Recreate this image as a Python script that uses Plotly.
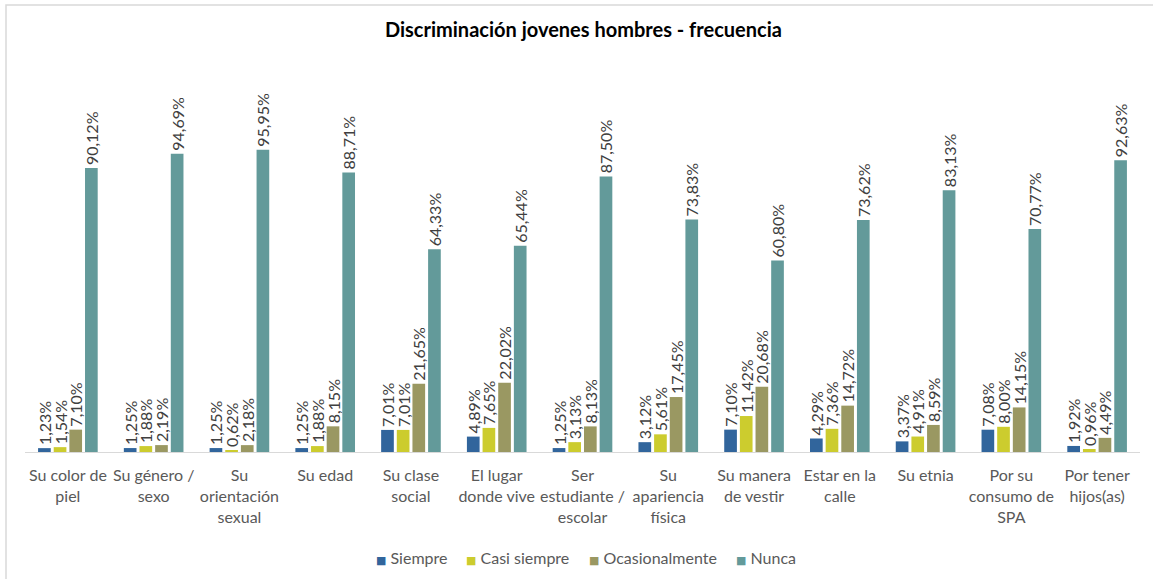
import plotly.graph_objects as go

categories = ["Su color de<br>piel", "Su género /<br>sexo", "Su<br>orientación<br>sexual", "Su edad",
              "Su clase<br>social", "El lugar<br>donde vive", "Ser<br>estudiante /<br>escolar",
              "Su<br>apariencia<br>física", "Su manera<br>de vestir", "Estar en la<br>calle",
              "Su etnia", "Por su<br>consumo de<br>SPA", "Por tener<br>hijos(as)"]

siempre = [1.23, 1.25, 1.25, 1.25, 7.01, 4.89, 1.25, 3.12, 7.10, 4.29, 3.37, 7.08, 1.92]
casi_siempre = [1.54, 1.88, 0.62, 1.88, 7.01, 7.65, 3.13, 5.61, 11.42, 7.36, 4.91, 8.00, 0.96]
ocasionalmente = [7.10, 2.19, 2.18, 8.15, 21.65, 22.02, 8.13, 17.45, 20.68, 14.72, 8.59, 14.15, 4.49]
nunca = [90.12, 94.69, 95.95, 88.71, 64.33, 65.44, 87.50, 73.83, 60.80, 73.62, 83.13, 70.77, 92.63]

series_names = ["Siempre", "Casi siempre", "Ocasionalmente", "Nunca"]
series_values = [siempre, casi_siempre, ocasionalmente, nunca]
series_colors = ["#31659C", "#CCCC2E", "#9A9862", "#639A9A"]

FONT = "Lato"
L, R, T, B = 25, 13, 137, 127
PW, PH = 1153 - L - R, 579 - T - B

fig = go.Figure()
for name, vals, color in zip(series_names, series_values, series_colors):
    fig.add_trace(go.Bar(
        name=name, x=categories, y=vals,
        marker=dict(color=color, line=dict(width=0)),
        text=[f"{v:.2f}%".replace(".", ",") for v in vals],
        textposition="outside", textangle=-90,
        textfont=dict(family=FONT, size=16, color="#404040"),
        cliponaxis=False, constraintext="none",
        showlegend=False,
    ))

# legend drawn as annotations (Excel-style small square swatches)
legend_px = [374, 464, 587, 734]
annotations = []
for name, color, px in zip(series_names, series_colors, legend_px):
    annotations.append(dict(
        xref="paper", yref="paper", x=(px - L) / PW, y=(452 - 557) / PH,
        xanchor="left", yanchor="middle", showarrow=False,
        text=f"<span style='font-size:11px;color:{color};font-family:DejaVu Sans'>■</span>&nbsp;{name}",
        font=dict(family=FONT, size=16, color="#595959"),
    ))

fig.update_layout(
    width=1153, height=579,
    paper_bgcolor="white", plot_bgcolor="white",
    margin=dict(l=L, r=R, t=T, b=B),
    barmode="group", bargap=0.27, bargroupgap=0.19,
    font=dict(family=FONT, size=16, color="#595959"),
    title=dict(text="<b>Discriminación jovenes hombres - frecuencia</b>",
               x=0.506, xanchor="center", y=0.948, yanchor="middle",
               font=dict(family=FONT, size=20, color="#000000")),
    showlegend=False,
    annotations=annotations,
    xaxis=dict(showline=True, linecolor="#D9D9D9", linewidth=1, ticks="",
               tickfont=dict(family=FONT, size=16, color="#595959"),
               ticklabelstandoff=9, range=[-0.5, 12.5],
               showgrid=False, zeroline=False, automargin=False),
    yaxis=dict(range=[0, 100], visible=False, showgrid=False, zeroline=False, automargin=False),
    shapes=[dict(type="rect", xref="paper", yref="paper",
                 x0=(6 - L) / PW, x1=1.1, y0=-0.6, y1=(452 - 5) / PH,
                 line=dict(color="#D9D9D9", width=1.5), fillcolor="rgba(0,0,0,0)", layer="below")],
)

fig.write_html("out.html", config={"displayModeBar": False},
               post_script="document.body.style.margin='0';")
